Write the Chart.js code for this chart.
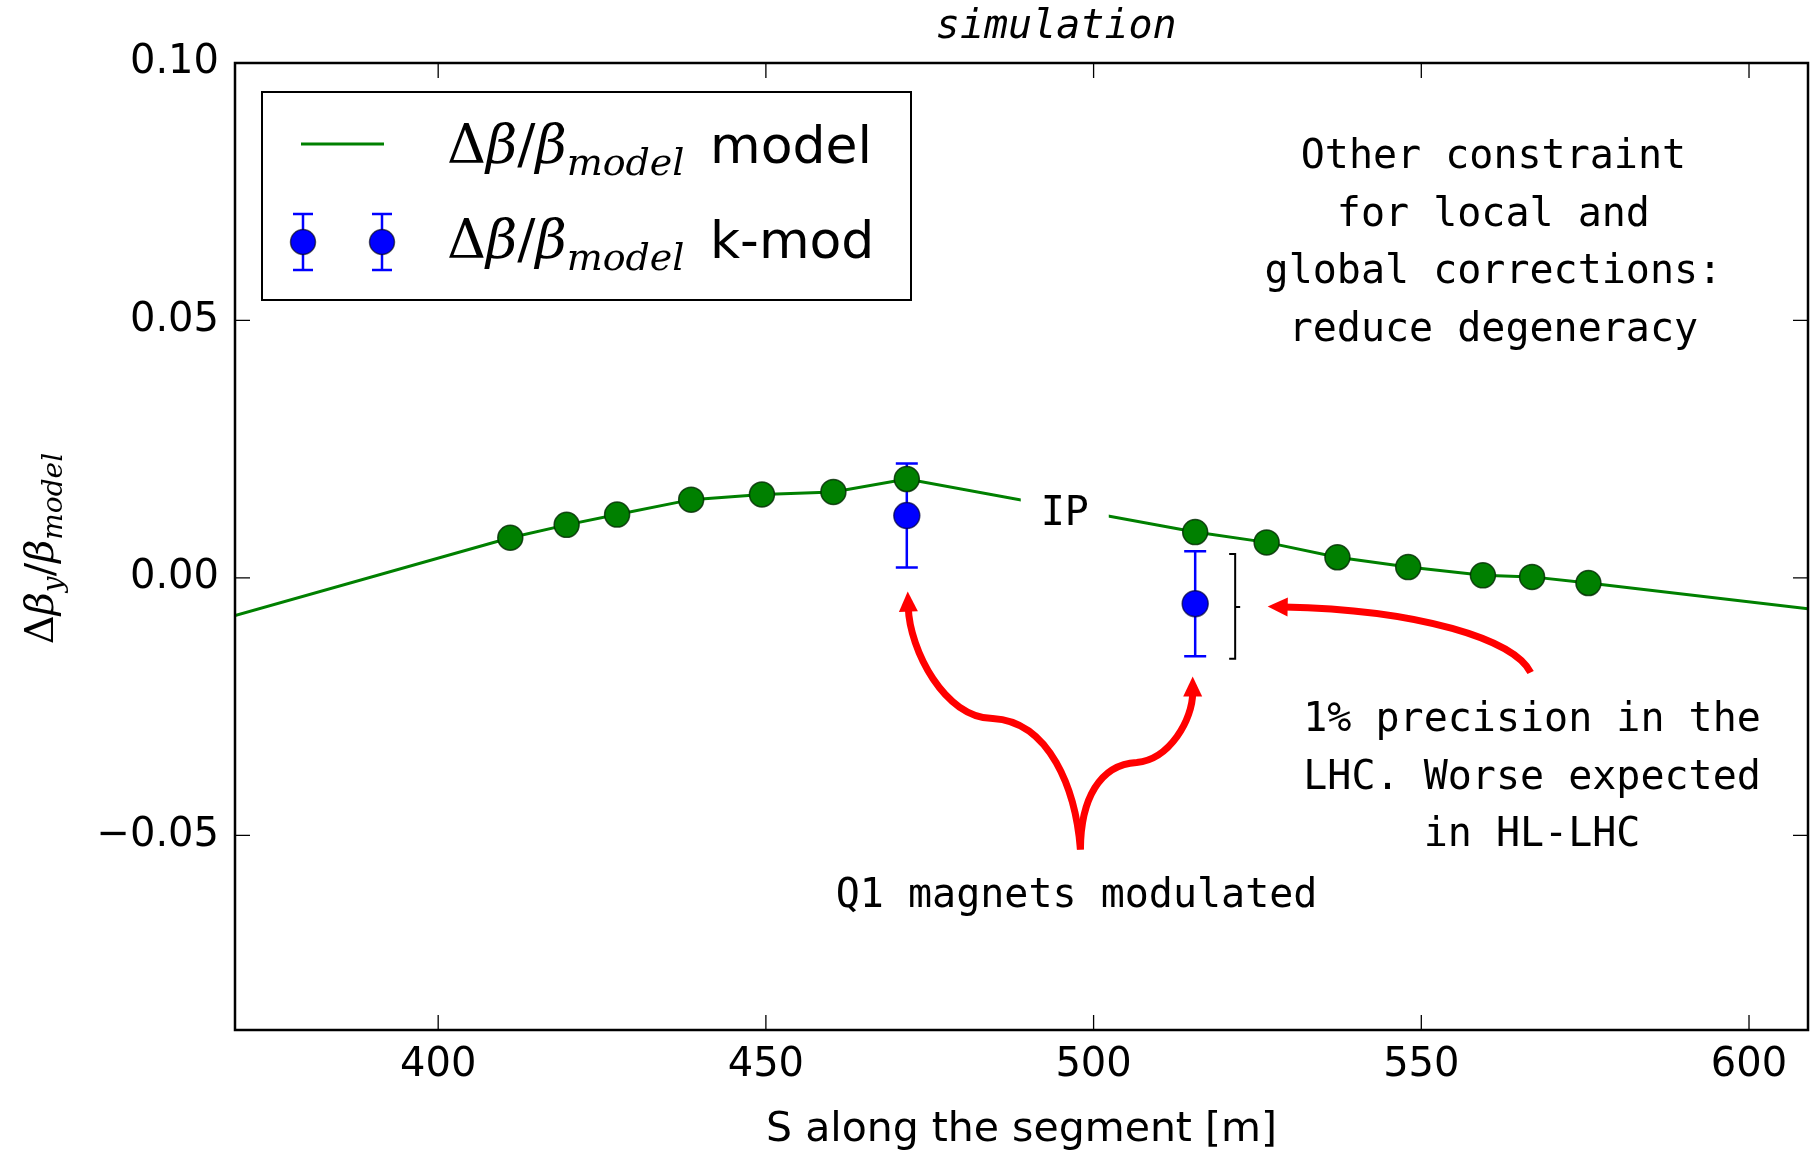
<!DOCTYPE html>
<html>
<head>
<meta charset="utf-8">
<title>k-mod simulation</title>
<script src="https://cdn.jsdelivr.net/npm/chart.js@4.4.1/dist/chart.umd.min.js"></script>
<style>
  html, body { margin: 0; padding: 0; background: #fff; }
  canvas { display: block; }
</style>
</head>
<body>
<canvas id="chart" width="1811" height="1151"></canvas>
<script>
// model beta-beating along the segment (green line)
const modelS = [369.0, 411.0, 419.6, 427.3, 438.6, 449.4, 460.3, 471.5, 515.5, 526.4, 537.2, 548.0, 559.4, 566.9, 575.5, 609.0];
const modelY = [-0.0073, 0.0078, 0.0103, 0.0123, 0.0152, 0.0162, 0.0167, 0.0192, 0.0089, 0.0069, 0.0040, 0.0021, 0.0005, 0.0002, -0.0010, -0.0060];

// model at the BPMs (green dots)
const bpmS = [411.0, 419.6, 427.3, 438.6, 449.4, 460.3, 471.5, 515.5, 526.4, 537.2, 548.0, 559.4, 566.9, 575.5];
const bpmY = [0.0078, 0.0103, 0.0123, 0.0152, 0.0162, 0.0167, 0.0192, 0.0089, 0.0069, 0.0040, 0.0021, 0.0005, 0.0002, -0.0010];

// k-modulation of the Q1 magnets, with error bars
const kmodS = [471.5, 515.5];
const kmodY = [0.0121, -0.0050];
const kmodErr = [0.0101, 0.0102];

const xTicks = [400, 450, 500, 550, 600];
const yTicks = [-0.05, 0.0, 0.05, 0.10];

const SANS = '"DejaVu Sans", sans-serif';
const MONO = '"DejaVu Sans Mono", monospace';
const SERIF = '"DejaVu Serif", serif';
const GREEN = '#008000';
const BLUE = '#0000ff';
const RED = '#ff0000';

// text notes, anchored at (s, y) of the first baseline
const notes = [
  { lines: ['Other constraint', 'for local and', 'global corrections:', 'reduce degeneracy'], s: 561.0, y: 0.0796 },
  { lines: ['1% precision in the', 'LHC. Worse expected', 'in HL-LHC'], s: 566.9, y: -0.0298 },
  { lines: ['Q1 magnets modulated'], s: 497.4, y: -0.0640 },
];
const ipNote = { text: 'IP', s: 495.6, y: 0.0103 };

// curved red arrows: start point, then (c1, c2, end) cubic segments
const arrows = [
  [[497.99, -0.05273], [497.27, -0.04108], [493.30, -0.02789], [484.61, -0.02730], [477.28, -0.02730], [471.94, -0.01391], [471.64, -0.00266]],
  [[497.99, -0.05273], [498.03, -0.04302], [500.93, -0.03623], [506.57, -0.03584], [511.61, -0.03526], [515.12, -0.02750], [515.12, -0.01915]],
  [[566.68, -0.01838], [564.24, -0.01197], [549.75, -0.00615], [526.56, -0.00557]],
];
// bracket next to the second k-mod point
const bracket = { s: 521.6, top: 0.00466, mid: -0.00563, bottom: -0.01572 };

const mathLabelY = [{ t: '\u0394' }, { t: '\u03b2', it: 1 }, { t: 'y', it: 1, sub: 1 }, { t: '/' }, { t: '\u03b2', it: 1 }, { t: 'model', it: 1, sub: 1 }];
const mathLegend = [{ t: '\u0394' }, { t: '\u03b2', it: 1 }, { t: '/' }, { t: '\u03b2', it: 1 }, { t: 'model', it: 1, sub: 1 }];

function mathFont(p, size) {
  return (p.it ? 'italic ' : '') + (p.sub ? Math.round(size * 0.7) : size) + 'px ' + SERIF;
}
function mathWidth(ctx, parts, size) {
  let w = 0;
  parts.forEach((p) => { ctx.font = mathFont(p, size); w += ctx.measureText(p.t).width; });
  return w;
}
function drawMath(ctx, parts, x, y, size) {
  ctx.textAlign = 'left';
  ctx.textBaseline = 'alphabetic';
  parts.forEach((p) => {
    ctx.font = mathFont(p, size);
    ctx.fillText(p.t, x, y + (p.sub ? size * 0.22 : 0));
    x += ctx.measureText(p.t).width;
  });
}

function toPx(chart, pt) {
  return [chart.scales.x.getPixelForValue(pt[0]), chart.scales.y.getPixelForValue(pt[1])];
}

const decorations = {
  id: 'decorations',
  beforeDatasetsDraw(chart) {
    const ctx = chart.ctx;
    const { x, y } = chart.scales;
    ctx.save();
    ctx.strokeStyle = BLUE;
    ctx.lineWidth = 2.5;
    kmodS.forEach((s, i) => {
      const px = x.getPixelForValue(s);
      const top = y.getPixelForValue(kmodY[i] + kmodErr[i]);
      const bot = y.getPixelForValue(kmodY[i] - kmodErr[i]);
      ctx.beginPath();
      ctx.moveTo(px, top); ctx.lineTo(px, bot);
      ctx.moveTo(px - 11, top); ctx.lineTo(px + 11, top);
      ctx.moveTo(px - 11, bot); ctx.lineTo(px + 11, bot);
      ctx.stroke();
    });
    ctx.restore();
  },
  afterDatasetsDraw(chart) {
    const ctx = chart.ctx;
    const { x, y } = chart.scales;
    ctx.save();

    // IP label with white box
    const ipx = x.getPixelForValue(ipNote.s);
    const ipy = y.getPixelForValue(ipNote.y);
    ctx.fillStyle = '#fff';
    ctx.fillRect(ipx - 44, ipy - 48, 88, 66);
    ctx.fillStyle = '#000';
    ctx.font = '40px ' + MONO;
    ctx.textAlign = 'center';
    ctx.textBaseline = 'alphabetic';
    ctx.fillText(ipNote.text, ipx, ipy);

    notes.forEach((n) => {
      const nx = x.getPixelForValue(n.s);
      const ny = y.getPixelForValue(n.y);
      n.lines.forEach((line, i) => ctx.fillText(line, nx, ny + i * 57.5));
    });

    // bracket
    const bx = x.getPixelForValue(bracket.s);
    const bt = y.getPixelForValue(bracket.top);
    const bm = y.getPixelForValue(bracket.mid);
    const bb = y.getPixelForValue(bracket.bottom);
    ctx.strokeStyle = '#000';
    ctx.lineWidth = 2;
    ctx.beginPath();
    ctx.moveTo(bx - 6, bt); ctx.lineTo(bx, bt); ctx.lineTo(bx, bb); ctx.lineTo(bx - 6, bb);
    ctx.moveTo(bx, bm); ctx.lineTo(bx + 5, bm);
    ctx.stroke();

    // arrows
    ctx.strokeStyle = RED;
    ctx.fillStyle = RED;
    ctx.lineWidth = 7;
    ctx.lineCap = 'butt';
    arrows.forEach((a) => {
      const p = a.map((pt) => toPx(chart, pt));
      const tip = p[p.length - 1];
      const c2 = p[p.length - 2];
      let dx = tip[0] - c2[0], dy = tip[1] - c2[1];
      const len = Math.hypot(dx, dy);
      dx /= len; dy /= len;
      const headLen = 20, headW = 9.5;
      const end = [tip[0] - dx * headLen * 0.8, tip[1] - dy * headLen * 0.8];
      ctx.beginPath();
      ctx.moveTo(p[0][0], p[0][1]);
      for (let i = 1; i + 2 < p.length; i += 3) {
        const e = (i + 2 === p.length - 1) ? end : p[i + 2];
        ctx.bezierCurveTo(p[i][0], p[i][1], p[i + 1][0], p[i + 1][1], e[0], e[1]);
      }
      ctx.stroke();
      const bxh = tip[0] - dx * headLen, byh = tip[1] - dy * headLen;
      ctx.beginPath();
      ctx.moveTo(tip[0], tip[1]);
      ctx.lineTo(bxh - dy * headW, byh + dx * headW);
      ctx.lineTo(bxh + dy * headW, byh - dx * headW);
      ctx.closePath();
      ctx.fill();
    });
    ctx.restore();
  },
  afterDraw(chart) {
    const ctx = chart.ctx;
    const { left, right, top, bottom } = chart.chartArea;
    const { x, y } = chart.scales;
    ctx.save();

    // frame and inward ticks on all sides
    ctx.strokeStyle = '#000';
    ctx.lineWidth = 1.3;
    ctx.beginPath();
    xTicks.forEach((v) => {
      const px = x.getPixelForValue(v);
      ctx.moveTo(px, bottom); ctx.lineTo(px, bottom - 15);
      ctx.moveTo(px, top); ctx.lineTo(px, top + 15);
    });
    yTicks.forEach((v) => {
      const py = y.getPixelForValue(v);
      ctx.moveTo(left, py); ctx.lineTo(left + 15, py);
      ctx.moveTo(right, py); ctx.lineTo(right - 15, py);
    });
    ctx.stroke();
    ctx.lineWidth = 2.5;
    ctx.strokeRect(left, top, right - left, bottom - top);

    // title
    ctx.fillStyle = '#000';
    ctx.font = 'italic 40px ' + MONO;
    ctx.textAlign = 'center';
    ctx.textBaseline = 'alphabetic';
    ctx.fillText('simulation', x.getPixelForValue(494.3), top - 25);

    // y axis label
    ctx.save();
    ctx.translate(53, (top + bottom) / 2 + 2);
    ctx.rotate(-Math.PI / 2);
    const wy = mathWidth(ctx, mathLabelY, 40);
    drawMath(ctx, mathLabelY, -wy / 2, 0, 40);
    ctx.restore();

    // legend
    const lx = left + 27, ly = top + 29;
    ctx.fillStyle = '#fff';
    ctx.fillRect(lx, ly, 649, 208);
    ctx.strokeStyle = '#000';
    ctx.lineWidth = 2;
    ctx.strokeRect(lx, ly, 649, 208);

    ctx.strokeStyle = GREEN;
    ctx.lineWidth = 3;
    ctx.beginPath();
    ctx.moveTo(lx + 39, ly + 52); ctx.lineTo(lx + 122, ly + 52);
    ctx.stroke();

    [lx + 41, lx + 120].forEach((mx) => {
      const my = ly + 150;
      ctx.strokeStyle = BLUE;
      ctx.lineWidth = 2.5;
      ctx.beginPath();
      ctx.moveTo(mx, my - 28); ctx.lineTo(mx, my + 28);
      ctx.moveTo(mx - 10, my - 28); ctx.lineTo(mx + 10, my - 28);
      ctx.moveTo(mx - 10, my + 28); ctx.lineTo(mx + 10, my + 28);
      ctx.stroke();
      ctx.fillStyle = BLUE;
      ctx.strokeStyle = 'rgba(0,0,0,0.6)';
      ctx.lineWidth = 1.5;
      ctx.beginPath();
      ctx.arc(mx, my, 12.5, 0, Math.PI * 2);
      ctx.fill();
      ctx.stroke();
    });

    ctx.fillStyle = '#000';
    drawMath(ctx, mathLegend, lx + 185, ly + 71, 54);
    drawMath(ctx, mathLegend, lx + 185, ly + 166, 54);
    ctx.font = '52px ' + SANS;
    ctx.fillText('model', lx + 448, ly + 71);
    ctx.fillText('k-mod', lx + 448, ly + 166);

    ctx.restore();
  },
};

new Chart(document.getElementById('chart'), {
  type: 'scatter',
  data: {
    datasets: [
      {
        type: 'line',
        label: 'model',
        data: modelS.map((s, i) => ({ x: s, y: modelY[i] })),
        borderColor: GREEN,
        borderWidth: 3,
        pointRadius: 0,
        tension: 0,
        fill: false,
        order: 3,
      },
      {
        label: 'model at BPMs',
        data: bpmS.map((s, i) => ({ x: s, y: bpmY[i] })),
        backgroundColor: GREEN,
        borderColor: 'rgba(0,40,0,0.8)',
        borderWidth: 1.5,
        pointRadius: 12.5,
        order: 2,
      },
      {
        label: 'k-mod',
        data: kmodS.map((s, i) => ({ x: s, y: kmodY[i] })),
        backgroundColor: BLUE,
        borderColor: 'rgba(0,0,60,0.7)',
        borderWidth: 1.5,
        pointRadius: 13,
        order: 1,
      },
    ],
  },
  options: {
    responsive: false,
    animation: false,
    devicePixelRatio: 1,
    layout: { autoPadding: false, padding: { top: 63, right: 3, left: 0, bottom: 0 } },
    plugins: {
      legend: { display: false },
      tooltip: { enabled: false },
      title: { display: false },
    },
    scales: {
      x: {
        type: 'linear',
        min: 369,
        max: 609,
        afterBuildTicks: (scale) => { scale.ticks = xTicks.map((v) => ({ value: v })); },
        afterFit: (scale) => {
          scale.height = 121;
          scale.paddingLeft = 0;
          scale.paddingRight = 0;
        },
        grid: { display: false, drawTicks: false },
        border: { display: false },
        ticks: {
          color: '#000',
          font: { family: SANS, size: 40 },
          padding: 12,
          maxRotation: 0,
          autoSkip: false,
          callback: (v) => String(v),
        },
        title: {
          display: true,
          text: 'S along the segment [m]',
          color: '#000',
          font: { family: SANS, size: 41 },
          padding: { top: 0, bottom: -4 },
        },
      },
      y: {
        type: 'linear',
        min: -0.0878,
        max: 0.10,
        afterBuildTicks: (scale) => { scale.ticks = yTicks.map((v) => ({ value: v })); },
        afterFit: (scale) => {
          scale.width = 235;
          scale.paddingTop = 0;
          scale.paddingBottom = 0;
        },
        grid: { display: false, drawTicks: false },
        border: { display: false },
        ticks: {
          color: '#000',
          font: { family: SANS, size: 40 },
          padding: 16,
          autoSkip: false,
          callback: (v) => v.toFixed(2).replace('-', '\u2212'),
        },
      },
    },
  },
  plugins: [decorations],
});
</script>
</body>
</html>
